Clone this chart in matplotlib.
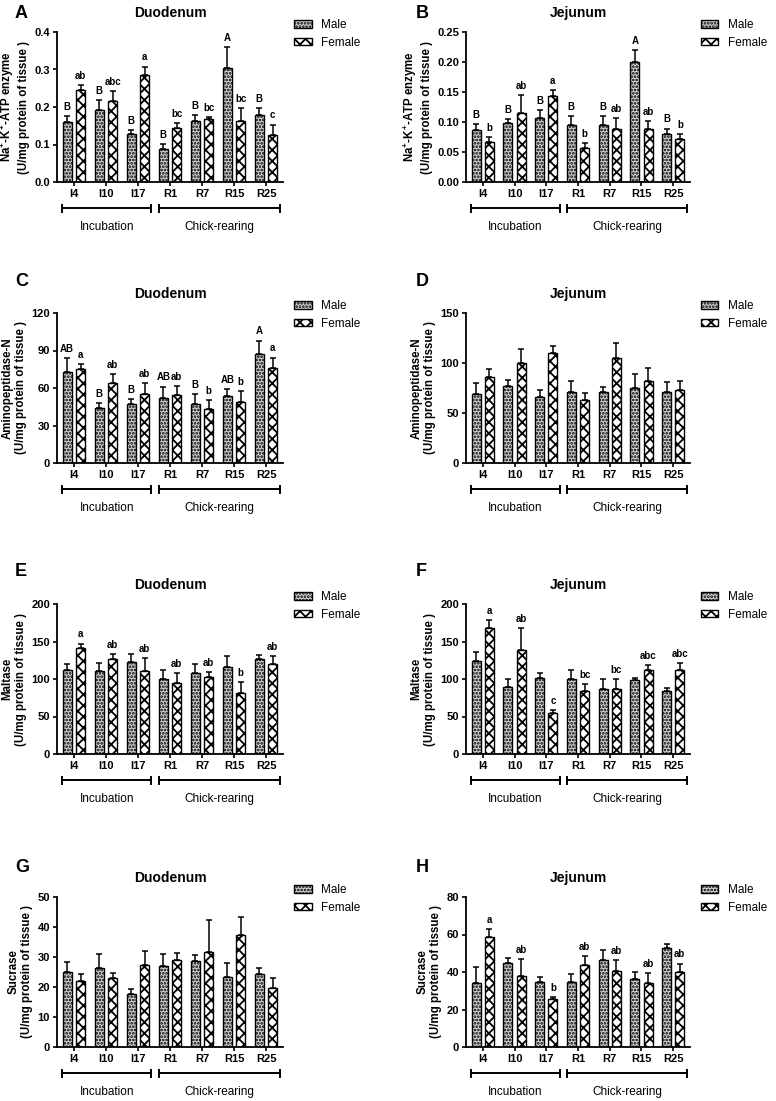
import numpy as np
import matplotlib
matplotlib.use("Agg")
import matplotlib.pyplot as plt
from matplotlib.patches import Patch
import matplotlib.transforms as mtransforms

plt.rcParams['font.family'] = ['Liberation Sans', 'DejaVu Sans']
plt.rcParams['mathtext.fontset'] = 'custom'
plt.rcParams['mathtext.rm'] = 'Liberation Sans:bold'
plt.rcParams['mathtext.default'] = 'rm'
plt.rcParams['hatch.linewidth'] = 1.3

groups = ['I4', 'I10', 'I17', 'R1', 'R7', 'R15', 'R25']

# A - Duodenum Na+-K+-ATP enzyme
a_male = [0.159, 0.191, 0.127, 0.088, 0.163, 0.304, 0.179]
a_male_se = [0.016, 0.027, 0.011, 0.014, 0.015, 0.055, 0.019]
a_female = [0.246, 0.216, 0.285, 0.144, 0.169, 0.163, 0.126]
a_female_se = [0.012, 0.026, 0.023, 0.013, 0.004, 0.034, 0.027]
a_male_lab = ['B', 'B', 'B', 'B', 'B', 'A', 'B']
a_female_lab = ['ab', 'abc', 'a', 'bc', 'bc', 'bc', 'c']

# B - Jejunum Na+-K+-ATP enzyme
b_male = [0.086, 0.099, 0.107, 0.095, 0.095, 0.200, 0.080]
b_male_se = [0.010, 0.006, 0.013, 0.015, 0.015, 0.020, 0.009]
b_female = [0.066, 0.115, 0.143, 0.056, 0.088, 0.089, 0.071]
b_female_se = [0.009, 0.030, 0.010, 0.009, 0.019, 0.013, 0.009]
b_male_lab = ['B', 'B', 'B', 'B', 'B', 'A', 'B']
b_female_lab = ['b', 'ab', 'a', 'b', 'ab', 'ab', 'b']

# C - Duodenum Aminopeptidase-N
c_male = [72.6, 43.7, 47.1, 52.2, 47.4, 53.6, 87.6]
c_male_se = [11.5, 4.5, 3.8, 8.9, 7.5, 5.3, 10.4]
c_female = [75.0, 63.8, 55.2, 54.4, 42.9, 48.5, 76.3]
c_female_se = [4.3, 7.2, 8.6, 6.9, 7.2, 8.8, 8.1]
c_male_lab = ['AB', 'B', 'B', 'AB', 'B', 'AB', 'A']
c_female_lab = ['a', 'ab', 'ab', 'ab', 'b', 'b', 'a']

# D - Jejunum Aminopeptidase-N
d_male = [68.9, 76.8, 65.6, 71.2, 71.5, 74.8, 71.2]
d_male_se = [11.2, 6.3, 7.2, 10.9, 4.7, 14.6, 10.3]
d_female = [86.1, 100.3, 109.9, 63.2, 105.0, 82.1, 73.2]
d_female_se = [8.3, 13.3, 7.3, 7.0, 15.5, 13.3, 9.3]

# E - Duodenum Maltase
e_male = [112.0, 110.6, 122.6, 99.6, 108.4, 115.5, 126.1]
e_male_se = [7.5, 10.2, 10.6, 11.9, 12.0, 15.5, 6.2]
e_female = [141.6, 127.0, 110.6, 94.7, 102.2, 81.9, 119.5]
e_female_se = [5.7, 6.6, 17.7, 13.3, 6.6, 13.7, 11.5]
e_female_lab = ['a', 'ab', 'ab', 'ab', 'ab', 'b', 'ab']

# F - Jejunum Maltase
f_male = [124.1, 89.7, 100.9, 100.0, 86.3, 98.7, 84.0]
f_male_se = [11.6, 10.7, 7.5, 11.5, 13.3, 2.6, 3.6]
f_female = [167.4, 139.3, 54.4, 84.5, 86.3, 112.4, 112.4]
f_female_se = [11.2, 28.1, 4.4, 8.4, 13.3, 5.7, 9.3]
f_female_lab = ['a', 'ab', 'c', 'bc', 'bc', 'abc', 'abc']

# G - Duodenum Sucrase
g_male = [25.0, 26.3, 17.8, 27.1, 28.6, 23.3, 24.4]
g_male_se = [3.4, 4.6, 1.4, 3.8, 2.1, 4.7, 1.9]
g_female = [22.0, 22.9, 27.4, 29.1, 31.7, 37.4, 19.7]
g_female_se = [2.2, 1.9, 4.7, 2.3, 10.6, 6.0, 3.2]

# H - Jejunum Sucrase
h_male = [34.3, 45.0, 34.8, 34.6, 46.6, 36.3, 53.0]
h_male_se = [8.6, 2.7, 2.7, 4.5, 5.2, 3.7, 2.2]
h_female = [58.8, 37.9, 25.7, 43.9, 40.4, 34.3, 40.0]
h_female_se = [4.1, 9.2, 1.1, 4.5, 6.0, 5.3, 4.5]
h_female_lab = ['a', 'ab', 'b', 'ab', 'ab', 'ab', 'ab']

unit = '\n(U/mg protein of tissue )'
natpase = 'Na$^{+}$-K$^{+}$-ATP enzyme'

panels = [
    # letter, title, ylabel, male, male_se, female, female_se, male_lab, female_lab, yticks, fmt, col, row
    ('A', 'Duodenum', natpase + unit, a_male, a_male_se, a_female, a_female_se,
     a_male_lab, a_female_lab, np.arange(0, 0.41, 0.1), '%.1f', 0, 0),
    ('B', 'Jejunum', natpase + unit, b_male, b_male_se, b_female, b_female_se,
     b_male_lab, b_female_lab, np.arange(0, 0.251, 0.05), '%.2f', 1, 0),
    ('C', 'Duodenum', 'Aminopeptidase-N' + unit, c_male, c_male_se, c_female, c_female_se,
     c_male_lab, c_female_lab, np.arange(0, 121, 30), '%d', 0, 1),
    ('D', 'Jejunum', 'Aminopeptidase-N' + unit, d_male, d_male_se, d_female, d_female_se,
     None, None, np.arange(0, 151, 50), '%d', 1, 1),
    ('E', 'Duodenum', 'Maltase' + unit, e_male, e_male_se, e_female, e_female_se,
     None, e_female_lab, np.arange(0, 201, 50), '%d', 0, 2),
    ('F', 'Jejunum', 'Maltase' + unit, f_male, f_male_se, f_female, f_female_se,
     None, f_female_lab, np.arange(0, 201, 50), '%d', 1, 2),
    ('G', 'Duodenum', 'Sucrase' + unit, g_male, g_male_se, g_female, g_female_se,
     None, None, np.arange(0, 51, 10), '%d', 0, 3),
    ('H', 'Jejunum', 'Sucrase' + unit, h_male, h_male_se, h_female, h_female_se,
     None, h_female_lab, np.arange(0, 81, 20), '%d', 1, 3),
]

W, H = 776, 1101
fig = plt.figure(figsize=(W / 100, H / 100), dpi=100)

col_left = [57, 466]
col_width = [226, 224]
row_bottom = [182, 463, 754, 1047]
ax_height = 150
label_y = [14, 281, 572, 867]
label_x = [15, 416]

x = np.arange(len(groups))
bw = 0.28
off = 0.21

for (letter, title, ylabel, male, male_se, female, female_se, mlab, flab,
     yticks, fmt, col, row) in panels:
    rect = [col_left[col] / W, 1 - row_bottom[row] / H,
            col_width[col] / W, ax_height / H]
    ax = fig.add_axes(rect)
    ax.bar(x - off, male, bw, color='#d2d2d2', edgecolor='black',
           linewidth=1.0, hatch='.....', label='Male')
    ax.bar(x + off, female, bw, color='white', edgecolor='black',
           linewidth=1.0, hatch='xxx', label='Female')
    zeros = np.zeros(len(groups))
    ax.errorbar(x - off, male, yerr=[zeros, male_se], fmt='none',
                ecolor='black', elinewidth=1.1, capsize=2.5, capthick=1.1)
    ax.errorbar(x + off, female, yerr=[zeros, female_se], fmt='none',
                ecolor='black', elinewidth=1.1, capsize=2.5, capthick=1.1)

    if mlab is not None:
        for xi, v, s, t in zip(x, male, male_se, mlab):
            ax.annotate(t, (xi - off, v + s), xytext=(0, 3), textcoords='offset points',
                        ha='center', va='bottom', fontsize=7, fontweight='bold')
    if flab is not None:
        for xi, v, s, t in zip(x, female, female_se, flab):
            ax.annotate(t, (xi + off, v + s), xytext=(0, 3), textcoords='offset points',
                        ha='center', va='bottom', fontsize=7, fontweight='bold')

    ax.set_xlim(-0.53, 6.53)
    ax.set_ylim(yticks[0], yticks[-1])
    ax.set_yticks(yticks)
    ax.set_yticklabels([fmt % t for t in yticks])
    ax.set_xticks(x)
    ax.set_xticklabels(groups)
    for sp in ['top', 'right']:
        ax.spines[sp].set_visible(False)
    for sp in ['left', 'bottom']:
        ax.spines[sp].set_linewidth(1.3)
    ax.tick_params(axis='both', direction='out', length=3, width=1.2,
                   labelsize=8, pad=2)
    for lbl in ax.get_xticklabels() + ax.get_yticklabels():
        lbl.set_fontweight('bold')
    ax.set_ylabel(ylabel, fontsize=8.3, fontweight='bold', labelpad=3)
    ax.set_title(title, fontsize=10, fontweight='bold', pad=11)

    # period brackets under the axis
    trans = mtransforms.blended_transform_factory(ax.transData, ax.transAxes)
    for x0, x1, name in [(-0.36, 2.42, 'Incubation'), (2.66, 6.44, 'Chick-rearing')]:
        ax.plot([x0, x1], [-0.175, -0.175], color='black', lw=1.4,
                transform=trans, clip_on=False)
        for xe in (x0, x1):
            ax.plot([xe, xe], [-0.2, -0.15], color='black', lw=1.4,
                    transform=trans, clip_on=False)
        ax.text((x0 + x1) / 2, -0.30, name, transform=trans, ha='center',
                va='center', fontsize=8.5)

    handles = [Patch(facecolor='#d2d2d2', edgecolor='black', hatch='.....', label='Male'),
               Patch(facecolor='white', edgecolor='black', hatch='xxx', label='Female')]
    ax.legend(handles=handles, loc='upper left', bbox_to_anchor=(1.04, 1.1),
              frameon=False, fontsize=8.5, handlelength=1.45, handleheight=0.65,
              handletextpad=0.8, labelspacing=0.45, borderpad=0.2, borderaxespad=0)

    fig.text(label_x[col] / W, 1 - label_y[row] / H, letter, fontsize=13,
             fontweight='bold', ha='left', va='center')

fig.savefig('out.png', dpi=100)
